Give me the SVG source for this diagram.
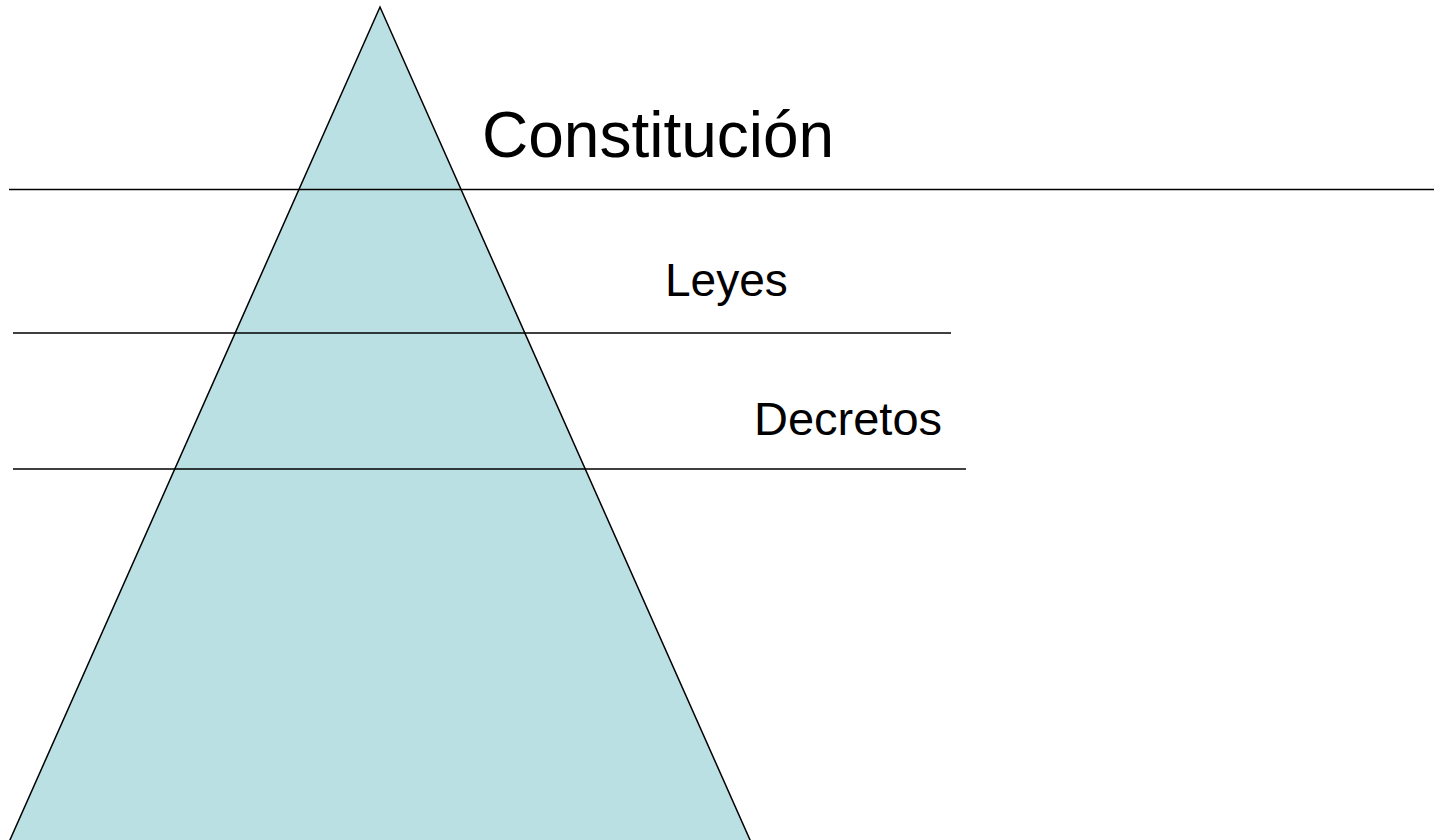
<svg xmlns="http://www.w3.org/2000/svg" width="1434" height="840" viewBox="0 0 1434 840">
<style>
.tri{fill:#BBE0E3;stroke:#000;stroke-width:1.5}
.ln{stroke:#000;stroke-width:1.5;fill:none}
.t{font-family:"Liberation Sans",Arial,sans-serif;fill:#000}
</style>
<rect width="1434" height="840" fill="#fff"/>
<g id="pyramid">
<polygon class="tri" points="380,7 5.5,850 754.5,850"/>
</g>
<g id="connectors">
<line class="ln" x1="9" y1="189.5" x2="1434" y2="189.5"/>
<line class="ln" x1="13" y1="333" x2="951" y2="333"/>
<line class="ln" x1="13" y1="469" x2="966" y2="469"/>
</g>
<g id="constitucion"><text class="t" x="482" y="157" font-size="64">Constitución</text></g>
<g id="leyes"><text class="t" x="665" y="296" font-size="46">Leyes</text></g>
<g id="decretos"><text class="t" x="754" y="435" font-size="47">Decretos</text></g>
</svg>
